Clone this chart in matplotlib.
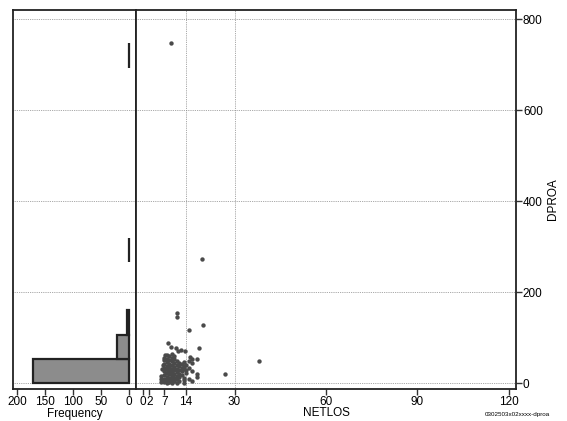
import matplotlib.pyplot as plt
import numpy as np

plt.rcParams['font.family'] = ['Liberation Sans', 'DejaVu Sans']

# histogram of DPROA (bins of 800/15)
bin_edges = [0, 53.3, 106.7, 160, 213.3, 266.7, 320, 373.3, 426.7, 480, 533.3, 586.7, 640, 693.3, 746.7]
freq = [171, 21, 4, 0, 0, 1, 0, 0, 0, 0, 0, 0, 0, 1]

# scatter NETLOS vs DPROA
netlos = [7, 7, 7, 7, 7, 7, 7,
          7.8, 7.8, 7.8, 7.8, 7.8, 7.8, 7.8, 7.8, 7.8,
          8.6, 8.6, 8.6, 8.6, 8.6, 8.6, 8.6, 8.6,
          9.4, 9.4, 9.4, 9.4, 9.4, 9.4, 9.4, 9.4, 9.4,
          10.2, 10.2, 10.2, 10.2, 10.2, 10.2, 10.2, 10.2,
          11, 11, 11, 11, 11, 11, 11,
          11.8, 11.8, 11.8, 11.8, 11.8, 11.8,
          12.6, 12.6, 12.6, 12.6,
          13.4, 13.4, 13.4, 13.4, 13.4, 13.4,
          14.2, 14.2, 14.2,
          15, 15, 15,
          16, 16, 16, 16,
          6, 6, 5.8, 6.3, 6.5, 6.8, 7.2,
          7.4, 8.2, 9, 9.8, 10.6, 7.4, 8.2, 9, 9.8, 8.2, 9,
          9.2, 11, 11, 19.8, 14.9, 8.1, 9.2, 10.7, 11.4, 12.5, 13.8, 15.5,
          18.2, 17.6, 37.9, 27, 17.8, 17.8, 19.3]
dproa = [2, 10, 18, 26, 34, 42, 50,
         0, 6, 14, 22, 30, 38, 46, 54, 62,
         3, 11, 19, 27, 35, 43, 51, 59,
         0, 8, 16, 24, 32, 40, 48, 56, 64,
         4, 12, 20, 28, 36, 44, 52, 60,
         0, 8, 16, 24, 32, 40, 48,
         5, 13, 21, 29, 37, 45,
         18, 26, 34, 42,
         0, 6, 12, 30, 38, 46,
         22, 28, 40,
         10, 34, 48,
         4, 26, 44, 52,
         3, 10, 16, 30, 40, 55, 62,
         6, 2, 7, 4, 9, 22, 25, 21, 15, 36, 30,
         747, 153, 146, 128, 117, 89, 79, 77, 71, 72, 70, 58,
         77, 53, 48, 20, 21, 14, 273]

xticks_right = [0, 2, 7, 14, 30, 60, 90, 120]
yticks = [0, 200, 400, 600, 800]
xticks_left = [0, 50, 100, 150, 200]

fig = plt.figure(figsize=(5.67, 4.21), dpi=100)
axh = fig.add_axes([0.023, 0.076, 0.217, 0.900])
axs = fig.add_axes([0.240, 0.076, 0.670, 0.900])

grid_kw = dict(color='#8a8a8a', linestyle=(0, (1, 1.2)), linewidth=0.6, zorder=0)

# histogram panel, only bins that hold something
lows = [bin_edges[i] for i in range(len(freq)) if freq[i] > 0]
counts = [freq[i] for i in range(len(freq)) if freq[i] > 0]
hts = [bin_edges[i + 1] - bin_edges[i] for i in range(len(freq)) if freq[i] > 0]
axh.barh(lows, counts, height=hts, align='edge',
         color='#8c8c8c', edgecolor='#222222', linewidth=1.6, zorder=2)
axh.set_xlim(207, -12.5)
axh.set_ylim(-13, 820)
for y in yticks:
    axh.axhline(y, **grid_kw)
axh.set_xticks(xticks_left)
axh.set_yticks([])
axh.set_xlabel('Frequency', fontsize=8.5, labelpad=0)

# scatter panel
axs.scatter(netlos, dproa, s=10, color='#4a4a4a', linewidths=0, zorder=3)
axs.set_xlim(-2.3, 122.3)
axs.set_ylim(-13, 820)
for y in yticks:
    axs.axhline(y, **grid_kw)
for x in [14, 30]:
    axs.axvline(x, **grid_kw)
axs.set_xticks(xticks_right)
axs.set_yticks(yticks)
axs.yaxis.tick_right()
axs.yaxis.set_label_position('right')
axs.set_ylabel('DPROA', fontsize=8.5, labelpad=3)
axs.set_xlabel('NETLOS', fontsize=8.5, labelpad=-1)

for ax in (axh, axs):
    ax.tick_params(labelsize=8.5, length=4, width=1, color='#333333', pad=1)
    for sp in ax.spines.values():
        sp.set_linewidth(1.3)
        sp.set_color('#222222')

fig.text(0.912, 0.012, '0302503x02xxxx-dproa', fontsize=4.5, ha='center')

fig.savefig('out.png', dpi=100)
